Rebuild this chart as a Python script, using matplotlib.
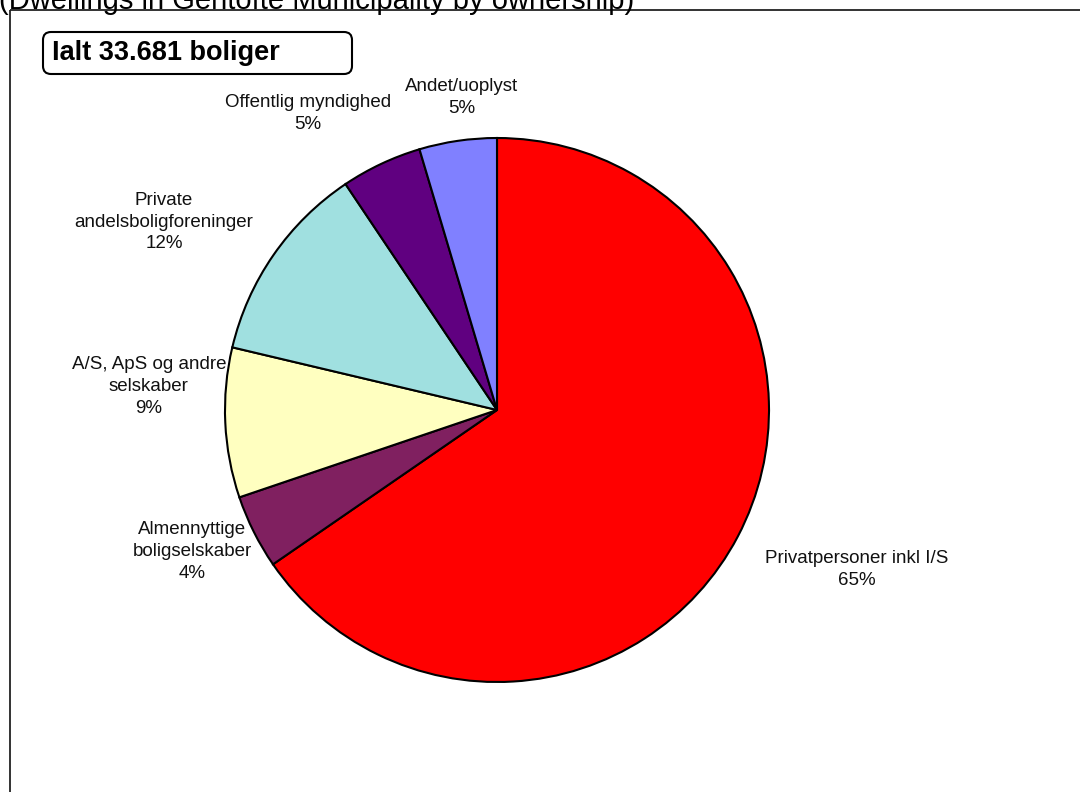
import matplotlib
matplotlib.use("Agg")
import matplotlib.pyplot as plt
from matplotlib.patches import Rectangle, FancyBboxPatch

plt.rcParams["font.family"] = ["Liberation Sans", "DejaVu Sans"]

# boliger i Gentofte Kommune efter ejerforhold
categories = [
    "Privatpersoner inkl I/S",
    "Almennyttige\nboligselskaber",
    "A/S, ApS og andre\nselskaber",
    "Private\nandelsboligforeninger",
    "Offentlig myndighed",
    "Andet/uoplyst",
]
dwellings = [22027, 1482, 2998, 4008, 1617, 1549]
colors = ["#FF0000", "#802060", "#FFFFC0", "#A0E0E0", "#600080", "#8080FF"]
title = "(Dwellings in Gentofte Municipality by ownership)"
total_label = "Ialt 33.681 boliger"

# label anchors in pie-radius units (Excel "best fit" placement)
label_pos = [
    (1.324, -0.588),
    (-1.121, -0.520),
    (-1.280, 0.087),
    (-1.224, 0.691),
    (-0.695, 1.090),
    (-0.129, 1.149),
]

W, H = 1080, 792
fig = plt.figure(figsize=(W / 100, H / 100), dpi=100)
fig.patch.set_facecolor("white")

# background layer in pixel coordinates
bg = fig.add_axes([0, 0, 1, 1])
bg.set_xlim(0, W)
bg.set_ylim(H, 0)
bg.axis("off")
bg.add_patch(Rectangle((10, 10), 1200, 900, fill=False, edgecolor="#222222", linewidth=1.3))
bg.text(-1, 9, title, fontsize=21, ha="left", va="baseline", color="black")
bg.add_patch(
    FancyBboxPatch(
        (43, 32), 309, 42,
        boxstyle="round,pad=0,rounding_size=8",
        facecolor="white", edgecolor="black", linewidth=1.5,
    )
)
bg.text(52, 53, total_label, fontsize=19.5, fontweight="bold", ha="left", va="center")

# pie: center (497, 410) px, radius 272 px
cx, cy, R, half = 497, 410, 272, 420
ax = fig.add_axes([(cx - half) / W, (H - cy - half) / H, 2 * half / W, 2 * half / H])

total = sum(dwellings)
wedges, _ = ax.pie(
    dwellings,
    colors=colors,
    startangle=90,
    counterclock=False,
    radius=1,
    wedgeprops={"edgecolor": "black", "linewidth": 1.5},
)
ax.set_xlim(-half / R, half / R)
ax.set_ylim(-half / R, half / R)
ax.axis("off")

for name, value, (lx, ly) in zip(categories, dwellings, label_pos):
    pct = round(100 * value / total)
    ax.text(lx, ly, f"{name}\n{pct}%", ha="center", va="center",
            multialignment="center", fontsize=13.5, color="#111111",
            linespacing=1.38)

fig.savefig("out.png", dpi=100)
